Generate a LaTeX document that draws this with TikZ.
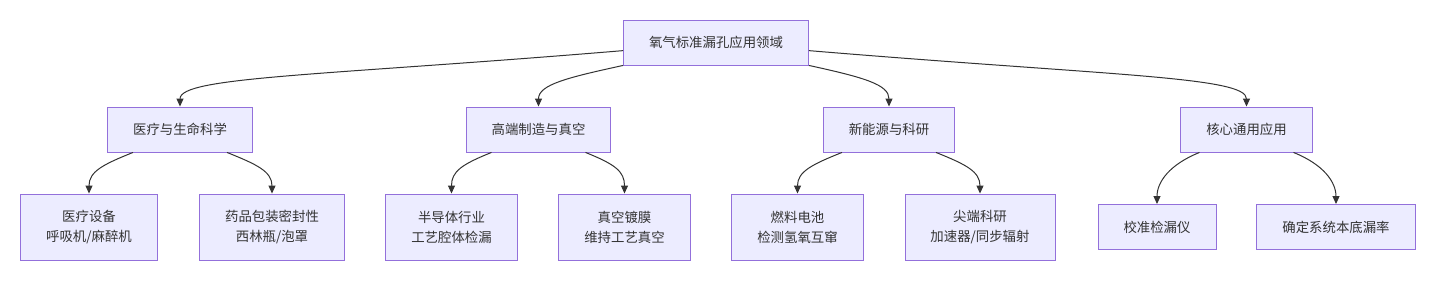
\documentclass[tikz,border=0pt]{standalone}
\usepackage{fontspec}
\setmainfont{Noto Sans CJK SC}
\usepackage{tikz}
\usetikzlibrary{arrows.meta}
\definecolor{nodefill}{HTML}{ECECFF}
\definecolor{nodeline}{HTML}{9370DB}
\definecolor{inkc}{HTML}{333333}
\tikzset{
  box/.style={draw=nodeline, fill=nodefill, line width=0.9pt, align=center, text=inkc,
              font=\fontsize{13.4pt}{20pt}\selectfont, inner xsep=25.5pt, inner ysep=4pt,
              minimum height=45pt},
  lbox/.style={box, minimum height=66pt},
  arr/.style={-{Triangle[length=8pt,width=7pt]}, line width=1pt, draw=inkc},
}
\begin{document}
\begin{tikzpicture}[x=1pt,y=-1pt]
  \useasboundingbox (0,0) rectangle (1438,284);

  \node[box] (root) at (716,42.5) {氧气标准漏孔应用领域};

  \node[box] (med)  at (180,129.5)  {医疗与生命科学};
  \node[box] (mfg)  at (538.5,129.5) {高端制造与真空};
  \node[box] (nrg)  at (889,129.5)  {新能源与科研};
  \node[box] (core) at (1246.5,129.5) {核心通用应用};

  \node[lbox] (dev)  at (89,227)    {医疗设备\\呼吸机/麻醉机};
  \node[lbox] (pkg)  at (272,227)   {药品包装密封性\\西林瓶/泡罩};
  \node[lbox] (semi) at (451.5,227) {半导体行业\\工艺腔体检漏};
  \node[lbox] (coat) at (624.5,227) {真空镀膜\\维持工艺真空};
  \node[lbox] (fuel) at (797.5,227) {燃料电池\\检测氢氧互窜};
  \node[lbox] (sci)  at (980,227)   {尖端科研\\加速器/同步辐射};
  \node[box]  (cal)  at (1157,227)  {校准检漏仪};
  \node[box]  (base) at (1336,227)  {确定系统本底漏率};

  \draw[arr] (root.185) .. controls +(-300,25) and +(0,-30) .. (med.north);
  \draw[arr] (root.south west) .. controls +(-55,12) and +(0,-22) .. (mfg.north);
  \draw[arr] (root.south east) .. controls +(55,12) and +(0,-22) .. (nrg.north);
  \draw[arr] (root.-5) .. controls +(300,25) and +(0,-30) .. (core.north);

  \foreach \p/\a/\b in {med/dev/pkg, mfg/semi/coat, nrg/fuel/sci, core/cal/base} {
    \draw[arr] ([xshift=-47pt]\p.south) .. controls +(-30,12) and +(0,-22) .. (\a.north);
    \draw[arr] ([xshift=47pt]\p.south) .. controls +(30,12) and +(0,-22) .. (\b.north);
  }
\end{tikzpicture}
\end{document}
